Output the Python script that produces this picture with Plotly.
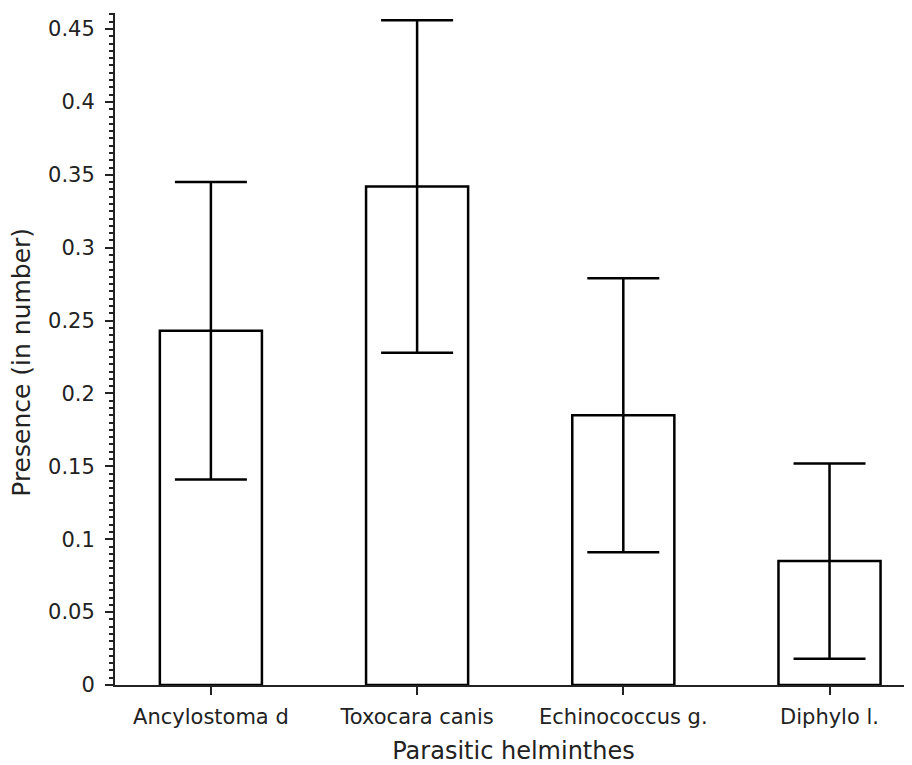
import plotly.graph_objects as go

categories = ["Ancylostoma d", "Toxocara canis", "Echinococcus g.", "Diphylo l."]
presence = [0.243, 0.342, 0.185, 0.085]
error = [0.102, 0.114, 0.094, 0.067]
y_ticks = [0, 0.05, 0.1, 0.15, 0.2, 0.25, 0.3, 0.35, 0.4, 0.45]
y_tick_labels = ["0", "0.05", "0.1", "0.15", "0.2", "0.25", "0.3", "0.35", "0.4", "0.45"]

fig = go.Figure()
fig.add_trace(go.Bar(
    x=list(range(len(categories))),
    y=presence,
    width=0.495,
    marker=dict(color="white", line=dict(color="black", width=2.5)),
    error_y=dict(type="data", array=error, visible=True, color="black", thickness=2.5, width=36),
    showlegend=False,
))

font_family = "DejaVu Sans, Verdana, sans-serif"
fig.update_layout(
    width=904, height=757,
    margin=dict(l=107, r=0, t=5, b=80),
    plot_bgcolor="white", paper_bgcolor="white",
    font=dict(family=font_family, color="#222", size=18),
    xaxis=dict(
        range=[-0.465, 3.40],
        tickmode="array",
        tickvals=list(range(len(categories))),
        ticktext=categories,
        ticks="outside", ticklen=8, tickwidth=2, tickcolor="#222",
        ticklabelstandoff=4,
        showline=True, linecolor="#222", linewidth=2,
        showgrid=False, zeroline=False,
        tickfont=dict(size=21),
        title=dict(text="Parasitic helminthes", font=dict(size=24), standoff=16),
    ),
    yaxis=dict(
        range=[0, 0.461],
        tickmode="array",
        tickvals=y_ticks,
        ticktext=y_tick_labels,
        ticks="outside", ticklen=8, tickwidth=2, tickcolor="#222",
        ticklabelstandoff=6,
        minor=dict(dtick=0.005, tick0=0, ticks="outside", ticklen=4, tickwidth=2, tickcolor="#222"),
        showline=True, linecolor="#222", linewidth=2,
        showgrid=False, zeroline=False,
        tickfont=dict(size=21),
    ),
    annotations=[dict(
        text="Presence (in number)", textangle=-90,
        xref="paper", yref="paper", x=-0.1167, y=0.481,
        xanchor="center", yanchor="middle", showarrow=False,
        font=dict(size=25, family=font_family, color="#222"),
    )],
)

fig.write_html("out.html")
